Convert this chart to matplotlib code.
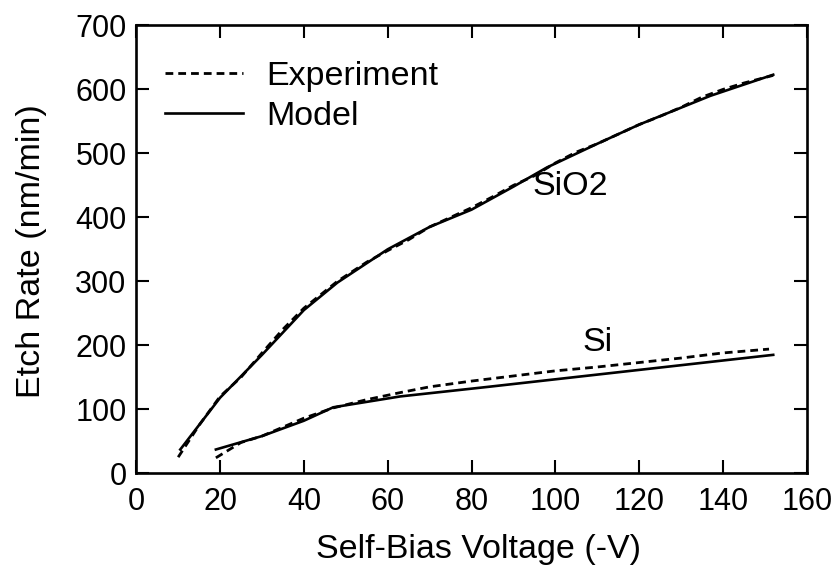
import matplotlib
matplotlib.use("Agg")
import matplotlib.pyplot as plt

plt.rcParams['font.family'] = ['Liberation Sans', 'DejaVu Sans']

# SiO2 etch rate vs self-bias voltage
sio2_exp_v = [10, 15, 20, 25, 30, 35, 40, 48, 55, 60, 65, 70, 75, 80, 85, 90, 95, 100, 105, 110, 115, 120, 125, 130, 135, 140, 145, 152]
sio2_exp_r = [25, 75, 120, 150, 188, 225, 258, 300, 330, 348, 365, 385, 400, 415, 432, 450, 465, 485, 502, 515, 530, 545, 558, 572, 588, 600, 610, 622]
sio2_mod_v = [10.5, 20, 30, 40, 48, 60, 70, 80, 90, 98, 110, 120, 137, 152]
sio2_mod_r = [37, 118, 185, 255, 298, 350, 385, 412, 448, 478, 515, 545, 590, 623]

# Si etch rate vs self-bias voltage
si_exp_v = [19, 25, 30, 35, 40, 47, 55, 63, 70, 80, 90, 100, 110, 120, 130, 140, 151]
si_exp_r = [24, 48, 58, 72, 86, 102, 115, 126, 135, 144, 152, 160, 166, 173, 180, 188, 194]
si_mod_v = [19, 30, 40, 47, 63, 84, 152]
si_mod_r = [37, 58, 82, 103, 120, 135, 185]

fs_tick = 22
fs = 24.5

fig = plt.figure(figsize=(8.36, 5.66), dpi=100)
ax = fig.add_axes([0.163, 0.164, 0.802, 0.791])

dash = (0, (2.8, 1.8))
ax.plot(sio2_exp_v, sio2_exp_r, color='black', lw=2.0, linestyle=dash, label='Experiment')
ax.plot(sio2_mod_v, sio2_mod_r, color='black', lw=1.9, label='Model')
ax.plot(si_exp_v, si_exp_r, color='black', lw=2.0, linestyle=dash)
ax.plot(si_mod_v, si_mod_r, color='black', lw=1.9)

ax.text(103.5, 449, 'SiO2', fontsize=fs, ha='center', va='center')
ax.text(110, 205, 'Si', fontsize=fs, ha='center', va='center')

ax.set_xlim(0, 160)
ax.set_ylim(0, 700)
ax.set_xticks(range(0, 161, 20))
ax.set_yticks(range(0, 701, 100))
ax.tick_params(direction='in', length=9.5, width=1.5, labelsize=fs_tick,
               top=True, right=True, pad=7)
ax.tick_params(axis='x', pad=10)
for s in ax.spines.values():
    s.set_linewidth(1.9)

ax.set_xlabel('Self-Bias Voltage (-V)', fontsize=fs)
ax.xaxis.set_label_coords(0.51, -0.135)
ax.set_ylabel('Etch Rate (nm/min)', fontsize=fs)
ax.yaxis.set_label_coords(-0.133, 0.495)

leg = ax.legend(loc='upper left', frameon=False, fontsize=fs, handlelength=2.3,
                handletextpad=0.68, labelspacing=0.25, borderaxespad=0.0,
                borderpad=0.0, bbox_to_anchor=(0.043, 0.92))

fig.savefig('out.png', dpi=100)
